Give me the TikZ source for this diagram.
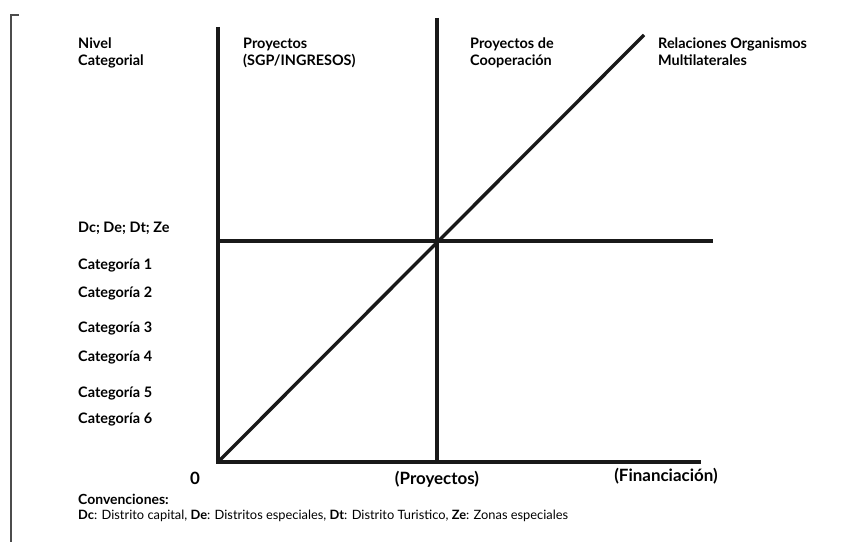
\documentclass[tikz,border=0pt]{standalone}
\usepackage{fontspec}
\setmainfont{Lato}
\begin{document}
\begin{tikzpicture}[x=1bp,y=-1bp,
  axis/.style={line width=3.4bp, black!90},
  lbl/.style={anchor=base west, inner sep=0pt, font=\fontsize{14.5}{18}\selectfont\bfseries, align=left},
  big/.style={anchor=base, inner sep=0pt, font=\fontsize{17}{19}\selectfont\bfseries},
  small/.style={anchor=base west, inner sep=0pt, font=\fontsize{12.9}{13}\selectfont}]
\useasboundingbox (0,0) rectangle (848,542);
% bracket
\coordinate (b1) at (19,15);
\coordinate (b2) at (11,15);
\coordinate (b3) at (11,542);
\draw[line width=1.2bp, black!70] (b1) -- (b2) -- (b3);
% axes
\coordinate (O) at (218,462);
\coordinate (ytop) at (218,27);
\coordinate (mtop) at (437,18);
\coordinate (mbot) at (437,462);
\coordinate (hl) at (218,241);
\coordinate (hr) at (713,241);
\coordinate (xr) at (701,462);
\coordinate (dtop) at (644,35);
\draw[axis] (ytop) -- (O) -- (xr);
\draw[axis] (mtop) -- (mbot);
\draw[axis] (hl) -- (hr);
\draw[axis] (O) -- (dtop);
% labels (base anchor = last line)
\node[lbl] (nivel) at (78,66) {Nivel\\Categorial};
\node[lbl] (proy) at (243,66) {Proyectos\\(SGP/INGRESOS)};
\node[lbl] (coop) at (470,66) {Proyectos de\\Cooperación};
\node[lbl] (rel) at (658,66) {Relaciones Organismos\\Multilaterales};
\node[lbl] (dc) at (78,233) {Dc; De; Dt; Ze};
\node[lbl] (c1) at (78,270) {Categoría 1};
\node[lbl] (c2) at (78,298) {Categoría 2};
\node[lbl] (c3) at (78,333) {Categoría 3};
\node[lbl] (c4) at (78,361) {Categoría 4};
\node[lbl] (c5) at (78,397) {Categoría 5};
\node[lbl] (c6) at (78,423) {Categoría 6};
\node[big] (zero) at (195,484) {0};
\node[big] (xp) at (437,484) {(Proyectos)};
\node[big] (xf) at (666,481) {(Financiación)};
\node[small, font=\fontsize{14}{14}\selectfont\bfseries] (conv) at (78,504) {Convenciones:};
\node[small] (leg) at (78,519) {\textbf{Dc}: Distrito capital, \textbf{De}: Distritos especiales, \textbf{Dt}: Distrito Turistico, \textbf{Ze}: Zonas especiales};
\end{tikzpicture}
\end{document}
